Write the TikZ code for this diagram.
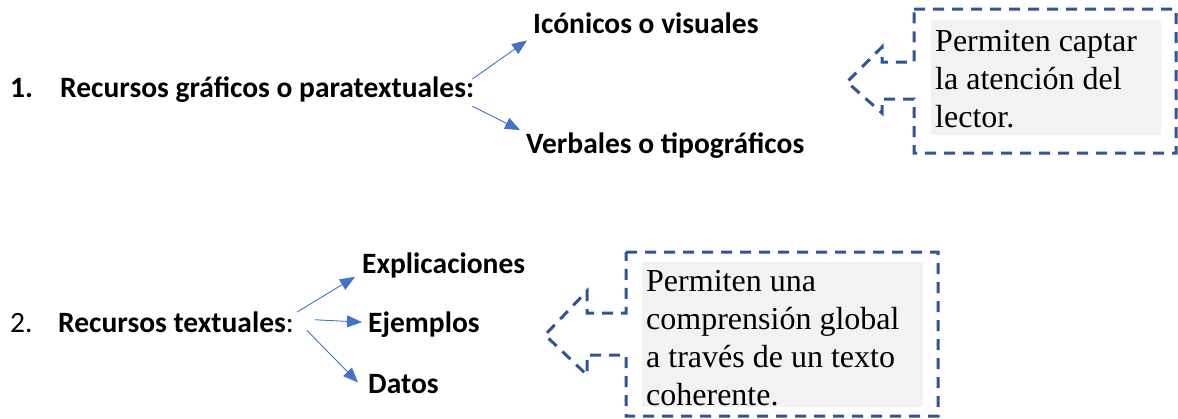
\documentclass[tikz,border=0pt]{standalone}
\usepackage{fontspec}
\setmainfont{Carlito}
\newfontfamily\tnr{Liberation Serif}
\usetikzlibrary{arrows.meta}
\definecolor{arrblue}{HTML}{4472C4}
\definecolor{dashblue}{HTML}{2F5597}
\definecolor{boxgray}{HTML}{F2F2F2}
\tikzset{lb/.style = {anchor=base west, inner sep=0pt, font=\fontsize{29.5}{35}\selectfont\bfseries},
           lr/.style = {anchor=base west, inner sep=0pt, font=\fontsize{29.5}{35}\selectfont},
           tx/.style = {anchor=base west, inner sep=0pt, align=left, font=\tnr\fontsize{32}{38}\selectfont},
           co/.style = {dashblue, line width=3pt, dash pattern=on 11pt off 8pt}}

\begin{document}
\begin{tikzpicture}[x=1pt, y=-1pt, >={Triangle[length=15pt,width=12pt]}, ar/.style={->, arrblue, line width=0.9pt}]
    \useasboundingbox (0,0) rectangle (1178,418);
    \node[lb] (n1) at (10,97) {1.}; \node[lb] (r1) at (60,97) {Recursos gráficos o paratextuales:};
    \node[lb] (ic) at (533,33) {Icónicos o visuales}; \node[lb] (vb) at (526,153) {Verbales o tipográficos};
    \node[lr] (n2) at (10,332) {2.}; \node[lr] (r2) at (58,332) {\textbf{Recursos textuales}:};
    \node[lb] (ex) at (362,273) {Explicaciones}; \node[lb] (ej) at (368,332) {Ejemplos};
    \node[lb] (da) at (368,393) {Datos};
    \draw[ar] ([xshift=-2pt, yshift=-3pt]r1.north east) -- ([xshift=-6pt, yshift=-7pt]ic.south west);
    \draw[ar] ([xshift=-2pt, yshift=-4pt]r1.south east) -- ([xshift=-6pt, yshift=2pt]vb.north west);
    \draw[ar] ([xshift=3pt, yshift=-1pt]r2.north east) -- ([xshift=-7pt, yshift=1pt]ex.south west);
    \draw[ar] ([xshift=21pt, yshift=2pt]r2.east) -- ([xshift=-6pt, yshift=2pt]ej.west);
    \draw[ar] ([xshift=13pt, yshift=2pt]r2.south east) -- ([xshift=-10pt, yshift=1pt]da.west);
    \fill[boxgray] (931,20) rectangle (1161,135);
    \fill[boxgray] (642,262) rectangle (923,407);
    \node[tx] (t1) at (935,127) {Permiten captar\\la atención del\\lector.};
    \node[tx] (t2) at (646,405) {Permiten una\\comprensión global\\a través de un texto\\coherente.};
    \draw[co] (914,9) -- (1176,9) -- (1176,153) -- (914,153) -- (914,99) -- (882,99) -- (882,113)
        -- (847,82) -- (882,47) -- (882,62) -- (914,62) -- cycle;
    \draw[co] (626,252) -- (938,252) -- (938,416) -- (626,416) -- (626,355) -- (587,355) -- (587,375)
        -- (545,335) -- (587,291) -- (587,313) -- (626,313) -- cycle;
  \end{tikzpicture}
\end{document}
